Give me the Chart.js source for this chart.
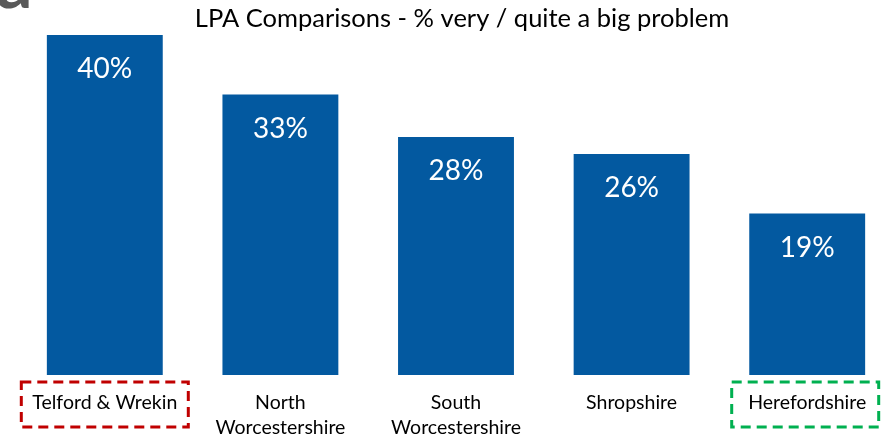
<!DOCTYPE html>
<html>
<head>
<meta charset="utf-8">
<script src="https://cdn.jsdelivr.net/npm/chart.js@4"></script>
<style>
  html, body { margin: 0; padding: 0; background: #fff; overflow: hidden; }
  #wrap { width: 900px; height: 439px; position: relative; }
</style>
</head>
<body>
<div id="wrap"><canvas id="chart" width="900" height="439"></canvas></div>
<script>
// chart data
const categories = [['Telford & Wrekin'], ['North', 'Worcestershire'], ['South', 'Worcestershire'], ['Shropshire'], ['Herefordshire']];
const values = [40, 33, 28, 26, 19];
const chartTitle = 'LPA Comparisons - % very / quite a big problem';
const highlighted = [{ index: 0, color: '#C00000', width: 167, shift: 0 }, { index: 4, color: '#00B050', width: 147, shift: -2 }];

const FONT = 'Lato, "Open Sans", sans-serif';

// title, value labels, dashed boxes, logo fragment
const decor = {
  id: 'decor',
  afterDraw(chart) {
    const ctx = chart.ctx;
    const x = chart.scales.x;
    const meta = chart.getDatasetMeta(0);
    ctx.save();

    // cut-off logo glyph in the corner
    ctx.fillStyle = '#595959';
    ctx.font = 'bold 72px ' + FONT;
    ctx.textBaseline = 'alphabetic';
    ctx.textAlign = 'left';
    ctx.fillText('a', -4, 8);

    // title
    ctx.fillStyle = '#000';
    ctx.font = '25.5px ' + FONT;
    ctx.textAlign = 'center';
    ctx.textBaseline = 'middle';
    ctx.fillText(chartTitle, 462, 19);

    // value labels inside bars
    ctx.fillStyle = '#fff';
    ctx.font = '28px ' + FONT;
    meta.data.forEach((bar, i) => {
      ctx.fillText(values[i] + '%', bar.x, bar.y + 34);
    });

    // dashed highlight boxes
    ctx.lineWidth = 3;
    ctx.setLineDash([10, 6]);
    highlighted.forEach(h => {
      const cx = x.getPixelForValue(h.index) + h.shift;
      ctx.strokeStyle = h.color;
      ctx.strokeRect(cx - h.width / 2, 382, h.width, 45);
    });
    ctx.restore();
  }
};

new Chart(document.getElementById('chart'), {
  type: 'bar',
  data: {
    labels: categories,
    datasets: [{
      data: values,
      backgroundColor: '#0359A0',
      categoryPercentage: 1,
      barPercentage: 0.66
    }]
  },
  options: {
    responsive: false,
    animation: false,
    layout: { padding: { top: 35, left: 17, right: 5, bottom: 0 } },
    plugins: { legend: { display: false }, tooltip: { enabled: false }, title: { display: false } },
    scales: {
      y: { display: false, min: 0, max: 40 },
      x: {
        grid: { display: false, drawTicks: false },
        border: { display: false },
        ticks: { color: '#000', font: { family: FONT, size: 19.5, lineHeight: 1.3 }, padding: 15, maxRotation: 0, autoSkip: false },
        afterFit: s => { s.height = 64; }
      }
    }
  },
  plugins: [decor]
});
</script>
</body>
</html>
